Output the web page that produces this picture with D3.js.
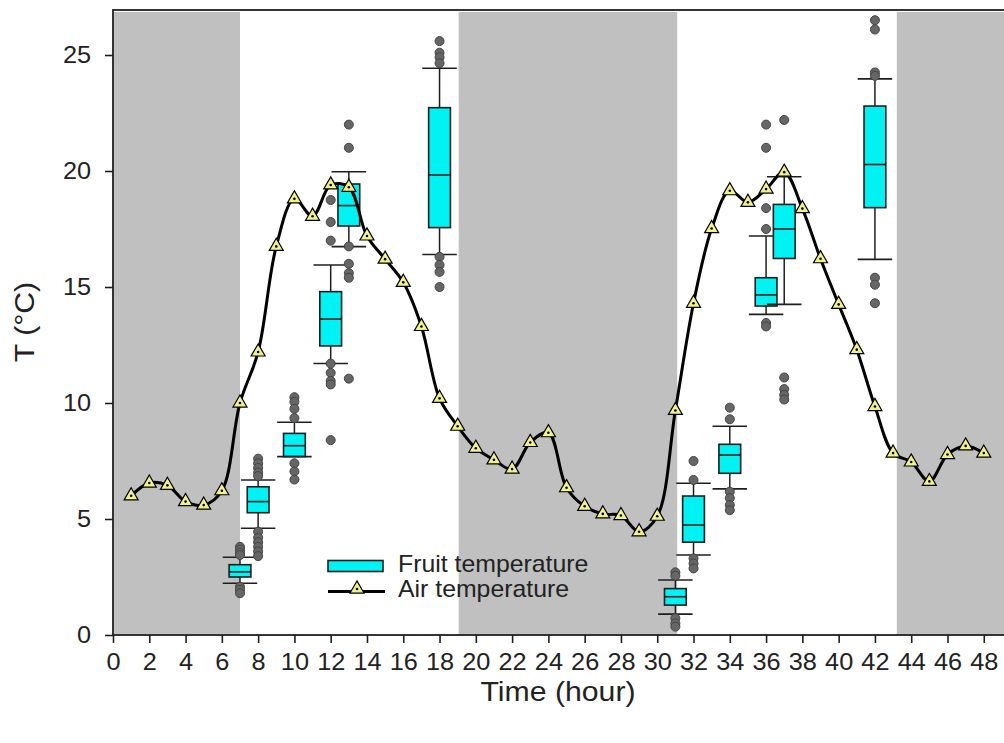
<!DOCTYPE html>
<html>
<head>
<meta charset="utf-8">
<script src="https://cdn.jsdelivr.net/npm/d3@7"></script>
<style>
  html, body { margin: 0; padding: 0; background: #fff; }
  svg { display: block; font-family: "Liberation Sans", Arial, sans-serif; }
</style>
</head>
<body>
<svg id="chart" width="1004" height="743"></svg>
<script>
// Hourly air temperature (°C), hours 1..48
const hours = [1,2,3,4,5,6,7,8,9,10,11,12,13,14,15,16,17,18,19,20,21,22,23,24,
               25,26,27,28,29,30,31,32,33,34,35,36,37,38,39,40,41,42,43,44,45,46,47,48];
const airTemp = [6.0, 6.55, 6.45, 5.75, 5.6, 6.22, 10.0, 12.2, 16.75, 18.8, 18.05, 19.4,
                 19.3, 17.2, 16.2, 15.2, 13.3, 10.2, 9.0, 8.05, 7.55, 7.15, 8.3, 8.72,
                 6.35, 5.55, 5.22, 5.15, 4.45, 5.12, 9.68, 14.3, 17.52, 19.15, 18.65, 19.22,
                 19.95, 18.38, 16.22, 14.25, 12.3, 9.85, 7.84, 7.46, 6.62, 7.78, 8.15, 7.84];

// Night periods (hours)
const nightStart = [0, 19, 43.15];
const nightEnd   = [7, 31.1, 49.2];

// Fruit temperature box plots
const boxHours     = [7, 8, 10, 12, 13, 18, 31, 32, 34, 36, 37, 42];
const whiskerLow   = [2.23, 4.6, 7.69, 11.7, 16.74, 16.4, 0.9, 3.45, 6.3, 13.82, 14.25, 16.19];
const q1           = [2.5, 5.27, 7.69, 12.46, 17.63, 17.56, 1.29, 4.0, 6.97, 14.18, 16.23, 18.42];
const medians      = [2.72, 5.75, 8.16, 13.62, 18.51, 19.83, 1.65, 4.74, 7.76, 14.66, 17.5, 20.28];
const q3           = [3.03, 6.39, 8.69, 14.8, 19.44, 22.73, 2.0, 5.99, 8.22, 15.4, 18.56, 22.8];
const whiskerHigh  = [3.35, 6.68, 9.17, 15.95, 19.97, 24.43, 2.37, 6.54, 9.0, 17.2, 19.75, 23.97];
const outliers = [
  [3.8, 3.68, 3.55, 3.45, 2.08, 1.95, 1.8],
  [7.6, 7.4, 7.2, 7.0, 6.85, 4.45, 4.2, 4.0, 3.8, 3.6, 3.4],
  [10.25, 10.05, 9.75, 9.35, 7.4, 7.05, 6.7],
  [18.75, 17.8, 17.0, 11.7, 11.3, 10.95, 10.8, 8.4],
  [22.0, 21.0, 16.75, 16.0, 15.6, 15.4, 11.05],
  [25.6, 25.1, 24.9, 24.65, 16.3, 15.95, 15.65, 15.0],
  [2.7, 2.55, 0.72, 0.5, 0.36],
  [7.5, 6.68, 3.3, 3.08, 2.87],
  [9.8, 9.3, 6.18, 5.9, 5.6, 5.38],
  [22.0, 21.0, 18.4, 17.5, 13.45, 13.3],
  [22.2, 11.1, 10.6, 10.35, 10.15],
  [26.5, 26.1, 24.25, 24.1, 15.4, 15.1, 14.3]
];

const xTicks = [0,2,4,6,8,10,12,14,16,18,20,22,24,26,28,30,32,34,36,38,40,42,44,46,48];
const yTicks = [0,5,10,15,20,25];

const svg = d3.select("#chart");
const plotLeft = 113, plotRight = 1005, plotTop = 10, plotBottom = 635;

const x = d3.scaleLinear().domain([0, 49.17]).range([plotLeft, plotRight]);
const y = d3.scaleLinear().domain([0, 26.94]).range([plotBottom, plotTop]);

const ink = "#1e1e1e";
const textColor = "#222";
const stretch = 1.1;   // slightly wide lettering

// Night shading
svg.append("g").selectAll("rect")
  .data(nightStart.map((s, i) => [s, nightEnd[i]]))
  .join("rect")
  .attr("x", d => x(d[0]) + 1)
  .attr("y", plotTop + 2)
  .attr("width", d => x(d[1]) - x(d[0]) - 1)
  .attr("height", plotBottom - plotTop - 3)
  .attr("fill", "#c0c0c0");

// Box plots
const boxHalf = 0.6, capHalf = 0.95;
const boxes = svg.append("g").selectAll("g")
  .data(boxHours.map((h, i) => ({h, lo: whiskerLow[i], q1: q1[i], med: medians[i], q3: q3[i], hi: whiskerHigh[i], out: outliers[i]})))
  .join("g");

boxes.append("line")
  .attr("x1", d => x(d.h)).attr("x2", d => x(d.h))
  .attr("y1", d => y(d.hi)).attr("y2", d => y(d.lo))
  .attr("stroke", ink).attr("stroke-width", 1.5);
boxes.append("rect")
  .attr("x", d => x(d.h - boxHalf))
  .attr("width", d => x(d.h + boxHalf) - x(d.h - boxHalf))
  .attr("y", d => y(d.q3))
  .attr("height", d => y(d.q1) - y(d.q3))
  .attr("fill", "#00f2f2").attr("stroke", ink).attr("stroke-width", 1.6);
boxes.append("line")
  .attr("x1", d => x(d.h - boxHalf)).attr("x2", d => x(d.h + boxHalf))
  .attr("y1", d => y(d.med)).attr("y2", d => y(d.med))
  .attr("stroke", ink).attr("stroke-width", 1.6);
boxes.selectAll("line.cap")
  .data(d => [d.lo, d.hi].map(v => ({h: d.h, v})))
  .join("line").attr("class", "cap")
  .attr("x1", d => x(d.h - capHalf)).attr("x2", d => x(d.h + capHalf))
  .attr("y1", d => y(d.v)).attr("y2", d => y(d.v))
  .attr("stroke", ink).attr("stroke-width", 1.6);
boxes.selectAll("circle")
  .data(d => d.out.map(v => ({h: d.h, v})))
  .join("circle")
  .attr("cx", d => x(d.h)).attr("cy", d => y(d.v)).attr("r", 4.5)
  .attr("fill", "#666").attr("stroke", "#444").attr("stroke-width", 1);

// Air temperature line
const line = d3.line()
  .x((d, i) => x(hours[i]))
  .y(d => y(d))
  .curve(d3.curveCatmullRom.alpha(0.5));
svg.append("path")
  .attr("d", line(airTemp))
  .attr("fill", "none").attr("stroke", "#000").attr("stroke-width", 3);

const tri = d3.symbol().type(d3.symbolTriangle).size(85);
function drawTriangle(sel) {
  sel.append("path").attr("d", tri())
    .attr("fill", "#f2f28a").attr("stroke", "#000").attr("stroke-width", 1.2);
  sel.append("circle").attr("r", 1.3).attr("fill", "#000");
}
svg.append("g").selectAll("g")
  .data(airTemp)
  .join("g")
  .attr("transform", (d, i) => `translate(${x(hours[i])},${y(d)})`)
  .call(drawTriangle);

// Frame
svg.append("rect")
  .attr("x", plotLeft).attr("y", plotTop)
  .attr("width", plotRight - plotLeft).attr("height", plotBottom - plotTop)
  .attr("fill", "none").attr("stroke", ink).attr("stroke-width", 1.8);

// Axes
const yAxis = svg.append("g")
  .attr("transform", `translate(${plotLeft},0)`)
  .call(d3.axisLeft(y).tickValues(yTicks).tickSize(8).tickPadding(14).tickFormat(d3.format("d")));
const xAxis = svg.append("g")
  .attr("transform", `translate(0,${plotBottom})`)
  .call(d3.axisBottom(x).tickValues(xTicks).tickSize(8).tickPadding(11).tickFormat(d3.format("d")));
[yAxis, xAxis].forEach(a => {
  a.select(".domain").remove();
  a.selectAll(".tick line").attr("stroke", ink).attr("stroke-width", 1.6);
  a.selectAll(".tick text").each(function() {
    const t = d3.select(this);
    const tx = +t.attr("x") || 0;
    t.attr("x", 0).attr("transform", `translate(${tx},0) scale(${stretch},1)`);
  })
  .attr("fill", textColor).style("font-size", "23px")
  .style("font-family", "'Liberation Sans', Arial, sans-serif");
});

// Axis titles
svg.append("text")
  .attr("transform", `translate(558,701) scale(1.12,1)`)
  .attr("text-anchor", "middle")
  .attr("fill", textColor).style("font-size", "27px")
  .text("Time (hour)");
svg.append("text")
  .attr("transform", "translate(34,322) rotate(-90) scale(1.12,1)")
  .attr("text-anchor", "middle")
  .attr("fill", textColor).style("font-size", "27px")
  .text("T (°C)");

// Legend
const legend = svg.append("g");
legend.append("rect")
  .attr("x", 328).attr("y", 560.5).attr("width", 55).attr("height", 11)
  .attr("fill", "#00f2f2").attr("stroke", ink).attr("stroke-width", 1.6);
legend.append("text")
  .attr("transform", "translate(398,572) scale(1.08,1)")
  .attr("fill", textColor).style("font-size", "23px")
  .text("Fruit temperature");
legend.append("line")
  .attr("x1", 328).attr("x2", 385).attr("y1", 591.5).attr("y2", 591.5)
  .attr("stroke", "#000").attr("stroke-width", 3);
legend.append("g").attr("transform", "translate(357,589)").call(drawTriangle);
legend.append("text")
  .attr("transform", "translate(398,597) scale(1.08,1)")
  .attr("fill", textColor).style("font-size", "23px")
  .text("Air temperature");
</script>
</body>
</html>
